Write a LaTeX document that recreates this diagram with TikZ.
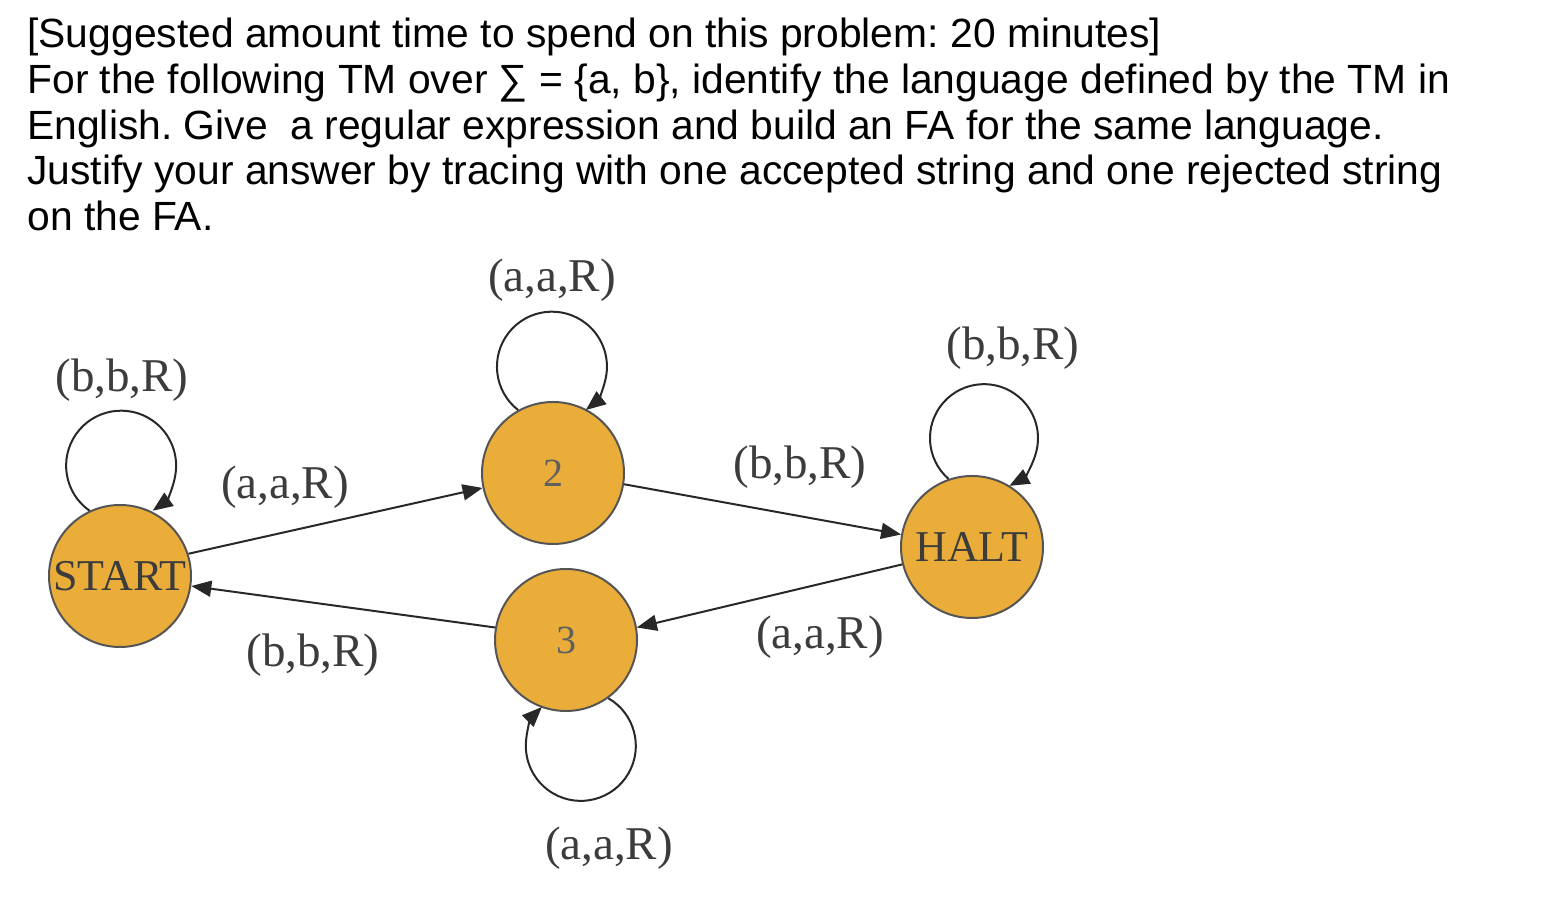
\documentclass[tikz,border=0pt]{standalone}
\usepackage{fontspec}
\setmainfont{Liberation Serif}
\newfontfamily\promptfont{Liberation Sans}
\usetikzlibrary{arrows.meta}
\definecolor{stateorange}{RGB}{234,173,58}
\definecolor{edgegray}{RGB}{40,40,40}
\definecolor{rimgray}{RGB}{85,85,85}
\definecolor{inkgray}{RGB}{60,60,60}
\definecolor{digitgray}{RGB}{95,95,95}
\tikzset{
  tmstate/.style={circle, draw=rimgray, line width=1pt, fill=stateorange, minimum size=71pt, inner sep=0pt, text=inkgray, font=\fontsize{22pt}{26pt}\selectfont},
  numstate/.style={tmstate, text=digitgray, font=\fontsize{20pt}{24pt}\selectfont},
  trans/.style={line width=1pt, draw=edgegray, -{Triangle[length=10pt,width=8pt]}},
  tlabel/.style={text=inkgray, inner sep=0pt, font=\fontsize{23.5pt}{27pt}\selectfont}
}
\begin{document}
\frenchspacing
\begin{tikzpicture}[x=0.5pt, y=0.5pt]
    \useasboundingbox (0,0) rectangle (1554,898);
    \node [anchor=north west, align=left, inner sep=0pt, font=\promptfont\fontsize{20.4pt}{22.8pt}\selectfont] (prompt) at (27,880)
        {[Suggested amount time to spend on this problem: 20 minutes]\\
         For the following TM over ∑ = \{a, b\}, identify the language defined by the TM in\\
         English. Give\ \ a regular expression and build an FA for the same language.\\
         Justify your answer by tracing with one accepted string and one rejected string\\
         on the FA.};

    \node [tmstate] (start) at (120,322) {START};
    \node [numstate] (two) at (553,425) {2};
    \node [numstate] (three) at (566,258) {3};
    \node [tmstate] (halt) at (972,351) {HALT};

    \draw [trans] (start.18) -- (two.192);
    \draw [trans] (two.-9) -- (halt.170);
    \draw [trans] (halt.194) -- (three.10);
    \draw [trans] (three.170) -- (start.-8);

    % self loops
    \draw [trans] (start.115) arc [start angle=235, end angle=-55, radius=55];
    \draw [trans] (two.119) arc [start angle=232, end angle=-52, radius=55];
    \draw [trans] (halt.109) arc [start angle=229, end angle=-62, radius=54];
    \draw [trans] (three.-54) arc [start angle=60, end angle=-225, radius=55];

    \node [tlabel] (startloop) at (122,518) {(b,b,R)};
    \node [tlabel] (twoloop) at (552,618) {(a,a,R)};
    \node [tlabel] (haltloop) at (1013,550) {(b,b,R)};
    \node [tlabel] (threeloop) at (609,50) {(a,a,R)};
    \node [tlabel] (starttwo) at (285,411) {(a,a,R)};
    \node [tlabel] (twohalt) at (800,431) {(b,b,R)};
    \node [tlabel] (haltthree) at (820,261) {(a,a,R)};
    \node [tlabel] (threestart) at (313,243) {(b,b,R)};
\end{tikzpicture}
\end{document}
